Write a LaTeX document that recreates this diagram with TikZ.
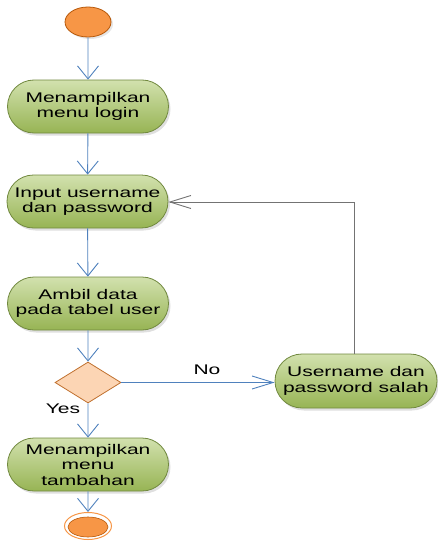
\documentclass[tikz,border=0pt]{standalone}
\usepackage{fontspec}
\newfontfamily\nodefont[FakeStretch=1.5]{Liberation Sans}
\usetikzlibrary{arrows.meta,shapes.misc,shapes.geometric,shadows}
\definecolor{flowblue}{HTML}{4F81BD}
\definecolor{gborder}{HTML}{71893F}
\definecolor{gtop}{HTML}{D2E1AE}
\definecolor{gbot}{HTML}{97B454}
\definecolor{orfill}{HTML}{F79646}
\definecolor{orborder}{HTML}{B65708}
\definecolor{dfill}{HTML}{FCD5B4}
\definecolor{dborder}{HTML}{C0702E}
\tikzset{
  act/.style={rounded rectangle, draw=gborder, line width=0.8pt, top color=gtop, bottom color=gbot,
    minimum width=161pt, minimum height=53pt, inner sep=0pt, align=center,
    font=\nodefont\fontsize{14}{15.5}\selectfont,
    drop shadow={shadow xshift=2pt, shadow yshift=-2.5pt, opacity=0.25, fill=gray}},
  vflow/.style={draw=flowblue, line width=0.9pt, -{Straight Barb[length=13pt,width=21pt,line width=0.9pt]}},
  hflow/.style={draw=flowblue, line width=0.9pt, -{Straight Barb[length=21pt,width=13pt,line width=0.9pt]}},
  back/.style={draw=gray!90!black, line width=0.9pt, -{Straight Barb[length=21pt,width=13pt,line width=0.9pt]}},
  lbl/.style={font=\nodefont\fontsize{14}{15.5}\selectfont, inner sep=0pt},
}
\begin{document}
\begin{tikzpicture}[x=1pt,y=-1pt]
\useasboundingbox (0,0) rectangle (437,543);
\node[ellipse, draw=orborder, line width=0.8pt, fill=orfill, minimum width=46pt, minimum height=30pt, inner sep=0pt,
  drop shadow={shadow xshift=2pt, shadow yshift=-2pt, opacity=0.2, fill=gray}] (start) at (88,22) {};
\node[act] (n1) at (88,106.5) {Menampilkan\\menu login};
\node[act] (n2) at (87.5,201.5) {Input username\\dan password};
\node[act] (n3) at (88,303.5) {Ambil data\\pada tabel user};
\node[diamond, draw=dborder, line width=0.8pt, fill=dfill, minimum width=66pt, minimum height=41pt, inner sep=0pt, aspect=1.6] (d) at (88,382.5) {};
\node[act, minimum width=162pt, minimum height=54pt] (n4) at (356,381) {Username dan\\password salah};
\node[act] (n5) at (88,464.5) {Menampilkan\\menu\\tambahan};
\node[ellipse, draw=orfill, line width=1pt, fill=white, minimum width=47pt, minimum height=27pt, inner sep=0pt] (endo) at (88,526) {};
\node[ellipse, draw=orborder, line width=0.6pt, fill=orfill, minimum width=40pt, minimum height=20pt, inner sep=0pt] (endi) at (88,527) {};

\draw[vflow] (start) -- (n1);
\draw[vflow] (n1) -- (n2);
\draw[vflow] (n2) -- (n3);
\draw[vflow] (n3) -- (d.north);
\draw[hflow] (d.east) -- (n4.west |- d.east);
\draw[vflow] (d.south) -- (n5);
\draw[vflow] (n5) -- (endo);
\coordinate (corner) at (354,202);
\draw[back] ([xshift=-2pt]n4.north) -- (corner) -- (n2.east |- corner);
\node[lbl] (no) at (207,370) {No};
\node[lbl] (yes) at (63,409) {Yes};
\end{tikzpicture}
\end{document}
